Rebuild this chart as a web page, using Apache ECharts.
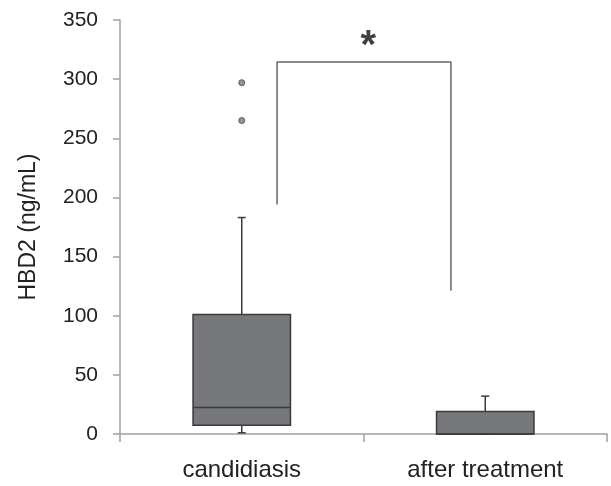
<!DOCTYPE html>
<html><head><meta charset="utf-8">
<script src="https://cdn.jsdelivr.net/npm/echarts@6/dist/echarts.min.js"></script>
<style>html,body{margin:0;padding:0;background:#fff}#c{width:611px;height:486px}</style>
</head><body><div id="c"></div>
<script>
var categories = ['candidiasis', 'after treatment'];
// [min, Q1, median, Q3, max]
var boxValues = [[1, 7.5, 22.5, 101, 183], [0, 0, 0, 19, 32]];
var outliers = [[0, 297], [0, 265]];
var yTicks = [0, 50, 100, 150, 200, 250, 300, 350];
// significance bracket (x in category units, 0..2; y in ng/mL)
var bracket = [[0.645, 194], [0.645, 314.5], [1.359, 314.5], [1.359, 121]];
var starPos = [[1.02, 327]];

var font = 'Liberation Sans, Arial, sans-serif';
var boxData = boxValues.map(function (b, i) { return [i].concat(b); });

function renderBox(params, api) {
  var idx = api.value(0);
  var band = api.size([1, 0])[0];
  var half = band * 0.2;
  var cap = 4;
  var pMin = api.coord([idx, api.value(1)]);
  var pQ1 = api.coord([idx, api.value(2)]);
  var pMed = api.coord([idx, api.value(3)]);
  var pQ3 = api.coord([idx, api.value(4)]);
  var pMax = api.coord([idx, api.value(5)]);
  var cx = pQ1[0];
  var stroke = {stroke: '#3a3a3a', lineWidth: 1.5, fill: null};
  return {
    type: 'group',
    children: [
      {type: 'line', shape: {x1: cx, y1: pQ3[1], x2: cx, y2: pMax[1]}, style: stroke},
      {type: 'line', shape: {x1: cx - cap, y1: pMax[1], x2: cx + cap, y2: pMax[1]}, style: stroke},
      {type: 'line', shape: {x1: cx, y1: pQ1[1], x2: cx, y2: pMin[1]}, style: stroke},
      {type: 'line', shape: {x1: cx - cap, y1: pMin[1], x2: cx + cap, y2: pMin[1]}, style: stroke},
      {type: 'rect', shape: {x: cx - half, y: pQ3[1], width: half * 2, height: pQ1[1] - pQ3[1]},
        style: {fill: '#77787b', stroke: '#3a3a3a', lineWidth: 1.5}},
      {type: 'line', shape: {x1: cx - half, y1: pMed[1], x2: cx + half, y2: pMed[1]}, style: stroke}
    ]
  };
}

var chart = echarts.init(document.getElementById('c'));
chart.setOption({
  animation: false,
  backgroundColor: '#fff',
  grid: {left: 120, right: 4, top: 20, bottom: 52},
  xAxis: [{
    type: 'category', data: categories, boundaryGap: true,
    axisLine: {lineStyle: {color: '#a0a0a0', width: 1.5}},
    axisTick: {show: true, length: 8, lineStyle: {color: '#a0a0a0', width: 1.5}},
    axisLabel: {color: '#222', fontSize: 24, fontFamily: font, margin: 24}
  }, {
    type: 'value', min: 0, max: 2, show: false
  }],
  yAxis: {
    type: 'value', min: 0, max: 350, interval: 50,
    name: 'HBD2 (ng/mL)', nameLocation: 'middle', nameGap: 80,
    nameTextStyle: {color: '#222', fontSize: 23, fontFamily: font},
    axisLine: {show: true, lineStyle: {color: '#a0a0a0', width: 1.5}},
    axisTick: {show: true, length: 7, lineStyle: {color: '#a0a0a0', width: 1.5}},
    splitLine: {show: false},
    axisLabel: {color: '#222', fontSize: 21, fontFamily: font, margin: 22,
      formatter: function (v) { return yTicks.indexOf(v) >= 0 ? String(v) : ''; }}
  },
  series: [{
    type: 'custom', data: boxData, renderItem: renderBox,
    encode: {x: 0, y: [1, 2, 3, 4, 5]}
  }, {
    type: 'scatter', data: outliers, symbolSize: 6,
    itemStyle: {color: '#7a7a7a', borderColor: '#444', borderWidth: 1}
  }, {
    type: 'line', xAxisIndex: 1, data: bracket, symbol: 'none',
    lineStyle: {color: '#666', width: 1.5}
  }, {
    type: 'scatter', xAxisIndex: 1, data: starPos, symbolSize: 1,
    itemStyle: {color: 'rgba(0,0,0,0)'},
    label: {show: true, position: 'inside', formatter: '*', fontSize: 40, fontWeight: 'bold', color: '#111', fontFamily: font}
  }]
});
</script></body></html>
